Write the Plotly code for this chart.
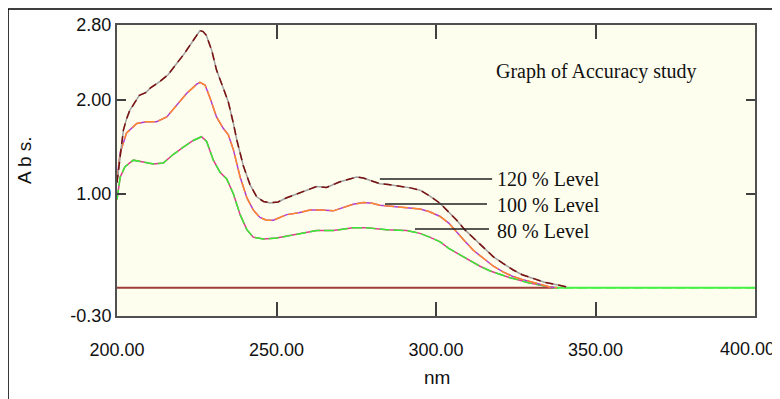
import plotly.graph_objects as go

# ---------------- data ----------------
nm_120 = [200, 201, 202, 203, 204, 205.5, 207, 209, 210.5, 213.5, 216, 218.7, 221, 223, 225, 226, 227,
          228, 229.7, 231.2, 233.3, 234.9, 236.5, 237.6, 239.6, 241.7, 243.8, 245.9, 248, 250.5, 253.2,
          257.4, 260.5, 262.6, 265.7, 269.9, 273, 275.1, 277.2, 280, 282.4, 285, 288.7, 292, 295, 298,
          301.3, 304, 306.5, 309, 311.7, 315, 318, 321, 324.2, 327, 330.5, 334, 336.8, 341]
abs_120 = [1.12, 1.40, 1.68, 1.80, 1.89, 1.97, 2.05, 2.08, 2.13, 2.20, 2.27, 2.39, 2.49, 2.59, 2.69, 2.74, 2.73,
           2.69, 2.53, 2.32, 2.13, 1.98, 1.75, 1.57, 1.30, 1.10, 0.97, 0.92, 0.905, 0.915, 0.96,
           1.01, 1.05, 1.08, 1.07, 1.13, 1.16, 1.18, 1.17, 1.14, 1.11, 1.10, 1.085, 1.065, 1.04, 0.98,
           0.90, 0.81, 0.72, 0.62, 0.53, 0.43, 0.33, 0.26, 0.19, 0.14, 0.10, 0.06, 0.04, 0.01]

nm_100 = [200, 201, 203, 206.2, 209.3, 212.4, 215.6, 218.7, 221.8, 225, 226, 227.6, 229.2, 231.2, 233.3,
          234.9, 236.5, 238.6, 240.7, 242.7, 244.8, 246.9, 249, 253.2, 257, 260.5, 264, 267.8, 271, 274,
          277.2, 280, 282.4, 288.7, 295, 298, 301.3, 304, 306.5, 309, 311.7, 315, 318, 321, 324.2, 327,
          330.5, 333, 335.7, 338]
abs_100 = [1.15, 1.44, 1.65, 1.75, 1.77, 1.77, 1.82, 1.95, 2.07, 2.17, 2.19, 2.16, 2.02, 1.82, 1.70,
           1.63, 1.47, 1.18, 0.96, 0.83, 0.75, 0.72, 0.72, 0.78, 0.80, 0.83, 0.83, 0.82, 0.86, 0.89,
           0.91, 0.90, 0.88, 0.86, 0.84, 0.81, 0.76, 0.69, 0.60, 0.50, 0.40, 0.31, 0.23, 0.17, 0.12, 0.09,
           0.06, 0.035, 0.01, 0.0]

nm_80 = [200, 201, 202.5, 205.1, 208.2, 211.4, 214.5, 217.6, 220.8, 223.9, 226.5, 228.1, 230.2, 232.3,
         234.4, 236.5, 238.6, 240.7, 242.7, 245.9, 250, 256.3, 262.6, 267.8, 274, 278.2, 284.5, 290.8,
         295, 298, 301.3, 304, 307.5, 311, 313.8, 317, 320.1, 323, 326.3, 329, 332.6, 336.8, 400]
abs_80 = [0.94, 1.18, 1.29, 1.36, 1.34, 1.32, 1.33, 1.42, 1.50, 1.57, 1.61, 1.56, 1.36, 1.23,
          1.16, 1.00, 0.78, 0.62, 0.54, 0.52, 0.53, 0.57, 0.61, 0.61, 0.64, 0.64, 0.62, 0.61,
          0.58, 0.54, 0.49, 0.42, 0.35, 0.28, 0.23, 0.18, 0.14, 0.11, 0.08, 0.055, 0.03, 0.0, 0.0]

nm_base = [200, 337]
abs_base = [0.0, 0.0]

x_ticks = [200, 250, 300, 350, 400]
x_tick_text = ["200.00", "250.00", "300.00", "350.00", ""]   # last label drawn separately so it fits
last_x_label = "400.00"
y_ticks = [-0.30, 1.00, 2.00, 2.80]

level_labels = ["120 % Level", "100 % Level", "80 % Level"]
chart_note = "Graph of Accuracy study"

# annotation placement (data coordinates)
label_x = 318.5
label_y = [1.16, 0.883, 0.606]
leader_x0 = [282.4, 284.0, 293.4]
leader_x1 = [317.6, 316.0, 316.6]
leader_y = [1.16, 0.894, 0.627]

# ---------------- figure ----------------
fig = go.Figure()

def add(x, y, color, dash="solid", width=1.5):
    fig.add_trace(go.Scatter(x=x, y=y, mode="lines", showlegend=False, hoverinfo="skip",
                             line=dict(color=color, width=width, dash=dash)))

add(nm_base, abs_base, "#9E3D3A", width=2)
# 80 % group (underlying replicate stops where the baseline begins)
add(nm_80[:-1], abs_80[:-1], "#E03C8C")
add(nm_80, abs_80, "#33EE33", dash="10px,4px")
add(nm_80[-2:], abs_80[-2:], "#44F044", width=2)
# 100 % group
add(nm_100, abs_100, "#B040D0")
add(nm_100, abs_100, "#FF8A2A", dash="10px,4px")
# 120 % group
add(nm_120, abs_120, "#A0A0A0")
add(nm_120, abs_120, "#7A1010", dash="8px,5px")

sans = "Liberation Sans Narrow, Arial Narrow, Liberation Sans, Arial, sans-serif"
serif = "Liberation Serif, Times New Roman, serif"

# page body has an 8px margin, so the figure is drawn 8px in from the window edge
fig.update_layout(
    width=772, height=391,
    margin=dict(l=109, r=25, t=17, b=83),
    paper_bgcolor="white",
    plot_bgcolor="#FEFEEE",
    font=dict(family=sans, size=18, color="#111111"),
    xaxis=dict(range=[200, 400], tickvals=x_ticks, ticktext=x_tick_text,
               ticks="inside", ticklen=14, tickwidth=2, tickcolor="#404040",
               showline=True, linecolor="#505050", linewidth=2, mirror="ticks",
               showgrid=False, zeroline=False, ticklabelstandoff=16, automargin=False,
               ticklabeloverflow="allow"),
    yaxis=dict(range=[-0.30, 2.80], tickvals=y_ticks, ticktext=[f"{v:.2f}" for v in y_ticks],
               ticks="inside", ticklen=9, tickwidth=2, tickcolor="#404040",
               showline=True, linecolor="#505050", linewidth=2, mirror="ticks",
               showgrid=False, zeroline=False, automargin=False),
)

for lx0, lx1, ly in zip(leader_x0, leader_x1, leader_y):
    fig.add_shape(type="line", xref="x", yref="y", x0=lx0, x1=lx1, y0=ly, y1=ly,
                  line=dict(color="#202020", width=1.5))

for txt, ly in zip(level_labels, label_y):
    fig.add_annotation(x=label_x, y=ly, xref="x", yref="y", text=txt, showarrow=False,
                       xanchor="left", yanchor="middle", font=dict(family=serif, size=20, color="#111111"))

fig.add_annotation(x=318.2, y=2.30, xref="x", yref="y", text=chart_note, showarrow=False,
                   xanchor="left", yanchor="middle", font=dict(family=serif, size=20, color="#111111"))

fig.add_annotation(x=1.0345, y=-0.113, xref="paper", yref="paper", text=last_x_label,
                   showarrow=False, xanchor="right", yanchor="middle", xshift=0,
                   font=dict(family=sans, size=18, color="#111111"))

fig.add_annotation(x=-0.1458, y=0.536, xref="paper", yref="paper", text="A b s.", textangle=-90,
                   showarrow=False, xanchor="center", yanchor="middle", font=dict(family=sans, size=19))
fig.add_annotation(x=0.5016, y=-0.213, xref="paper", yref="paper", text="nm",
                   showarrow=False, xanchor="center", yanchor="middle", font=dict(family=sans, size=19))

# outer frame
fig.add_shape(type="rect", xref="paper", yref="paper", x0=-0.1708, x1=1.036, y0=-0.32, y1=1.055,
              line=dict(color="black", width=1.5), layer="below")

fig.write_html("out.html")
